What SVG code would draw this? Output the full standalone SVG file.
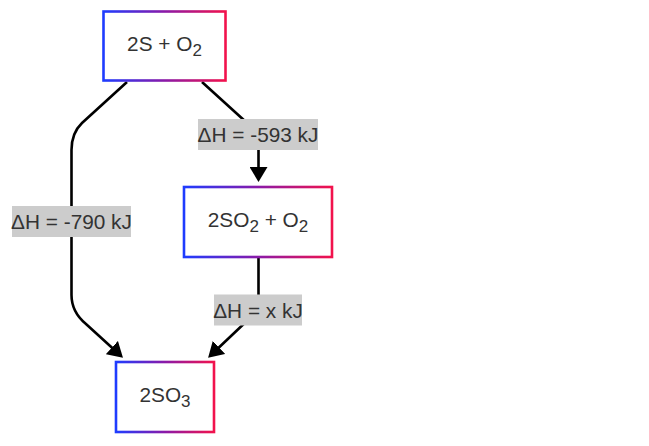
<svg xmlns="http://www.w3.org/2000/svg" width="649" height="446" viewBox="0 0 649 446">
<defs>
<linearGradient id="g" x1="0" y1="0" x2="1" y2="0">
<stop offset="0" stop-color="#1e3cff"/>
<stop offset="0.5" stop-color="#8a1aa8"/>
<stop offset="1" stop-color="#f2124c"/>
</linearGradient>
<marker id="arr" viewBox="0 0 15 18" markerWidth="15" markerHeight="18" refX="11" refY="9" orient="auto" markerUnits="userSpaceOnUse">
<path d="M0,0 L15,9 L0,18 z" fill="#000"/>
</marker>
<style>
.node rect{fill:#fff;stroke:url(#g);stroke-width:2.6}
.t{font-family:"Liberation Sans",Arial,sans-serif;font-size:20.8px;fill:#333;text-anchor:middle}
.edge{fill:none;stroke:#000;stroke-width:2.6;marker-end:url(#arr)}
.lbl rect{fill:#cccccc}
</style>
</defs>
<rect width="649" height="446" fill="#fff"/>
<g id="connectors">
<path class="edge" d="M127,82 L82,123 Q71.5,133 71.5,150 L71.5,295 Q71.5,312 86,324 L120,355"/>
<path class="edge" d="M202,82 L246,122 Q258.5,133 258.5,148 L258.5,178"/>
<path class="edge" d="M258.5,258 L258.5,300 Q258.5,310 250,318 L211,355"/>
</g>
<g id="labels" class="lbl">
<g id="label-790"><rect x="12" y="206" width="119" height="31"/><text class="t" x="71.5" y="229">ΔH = -790 kJ</text></g>
<g id="label-593"><rect x="198" y="119" width="120" height="31"/><text class="t" x="258" y="142">ΔH = -593 kJ</text></g>
<g id="label-x"><rect x="214" y="294.5" width="88" height="31"/><text class="t" x="258" y="317.5">ΔH = x kJ</text></g>
</g>
<g id="n1" class="node"><rect x="103.5" y="11.5" width="122" height="69"/><text class="t" x="164.5" y="51">2S + O<tspan font-size="17px" dy="5">2</tspan></text></g>
<g id="n2" class="node"><rect x="184" y="187" width="148" height="70"/><text class="t" x="258" y="227">2SO<tspan font-size="17px" dy="5">2</tspan><tspan dy="-5"> + O</tspan><tspan font-size="17px" dy="5">2</tspan></text></g>
<g id="n3" class="node"><rect x="116" y="362" width="98" height="70"/><text class="t" x="165" y="402">2SO<tspan font-size="17px" dy="5">3</tspan></text></g>
</svg>
